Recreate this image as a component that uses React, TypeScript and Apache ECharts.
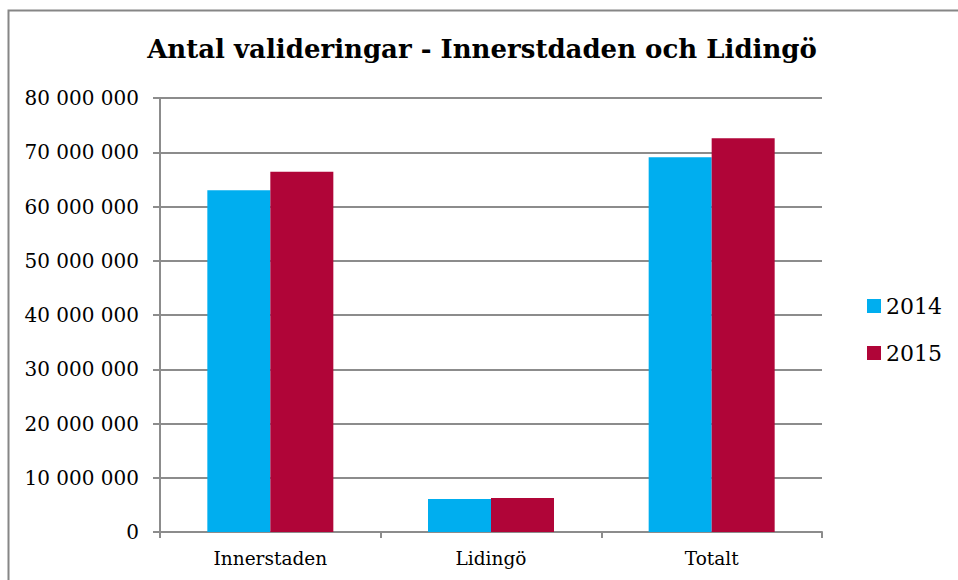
import React, { useEffect, useRef } from "react";
import * as echarts from "echarts";

const categories = ["Innerstaden", "Lidingö", "Totalt"];
const series2014 = [63000000, 6100000, 69100000];
const series2015 = [66400000, 6250000, 72600000];
const seriesNames = ["2014", "2015"];
const titleText = "Antal valideringar - Innerstdaden och Lidingö";

const FONT = "'DejaVu Serif', serif";

function fmt(v: number) {
  return String(Math.round(v)).replace(/\B(?=(\d{3})+(?!\d))/g, " ");
}

export default function App() {
  const ref = useRef<HTMLDivElement>(null);
  useEffect(() => {
    if (!ref.current) return;
    const chart = echarts.init(ref.current, null, { renderer: "svg" });
    chart.setOption({
      animation: false,
      backgroundColor: "#ffffff",
      title: {
        text: titleText,
        left: 477,
        textAlign: "center",
        top: 31,
        textStyle: { fontFamily: FONT, fontWeight: "bold", fontSize: 26, color: "#000" },
      },
      graphic: [
        {
          type: "rect",
          shape: { x: 8.5, y: 10.5, width: 960, height: 580 },
          style: { fill: "none", stroke: "#868686", lineWidth: 2 },
          silent: true,
        },
      ],
      legend: {
        orient: "vertical",
        left: 862,
        top: 290,
        itemWidth: 14,
        itemHeight: 14,
        itemGap: 25,
        icon: "rect",
        textStyle: { fontFamily: FONT, fontSize: 22, color: "#000" },
        data: seriesNames,
      },
      grid: { left: 160, right: 136, top: 98, bottom: 48 },
      xAxis: {
        type: "category",
        data: categories,
        axisLine: { lineStyle: { color: "#8c8c8c", width: 2 } },
        axisTick: { show: true, length: 6, lineStyle: { color: "#8c8c8c", width: 2 } },
        axisLabel: { fontFamily: FONT, fontSize: 18.5, color: "#000", margin: 17 },
      },
      yAxis: {
        type: "value",
        min: 0,
        max: 80000000,
        interval: 10000000,
        axisLine: { show: true, lineStyle: { color: "#8c8c8c", width: 2 } },
        axisTick: { show: true, length: 7, lineStyle: { color: "#8c8c8c", width: 2 } },
        splitLine: { lineStyle: { color: "#8c8c8c", width: 2 } },
        axisLabel: { fontFamily: FONT, fontSize: 20, color: "#000", margin: 21, formatter: (v: number) => fmt(v) },
      },
      series: [
        { name: seriesNames[0], type: "bar", data: series2014, barWidth: 63, barGap: "0%", itemStyle: { color: "#00AEEF" } },
        { name: seriesNames[1], type: "bar", data: series2015, barWidth: 63, barGap: "0%", itemStyle: { color: "#B00538" } },
      ],
    });
    return () => chart.dispose();
  }, []);
  return (
    <div
      ref={ref}
      style={{ position: "absolute", left: 0, top: 0, width: 958, height: 580 }}
    />
  );
}
